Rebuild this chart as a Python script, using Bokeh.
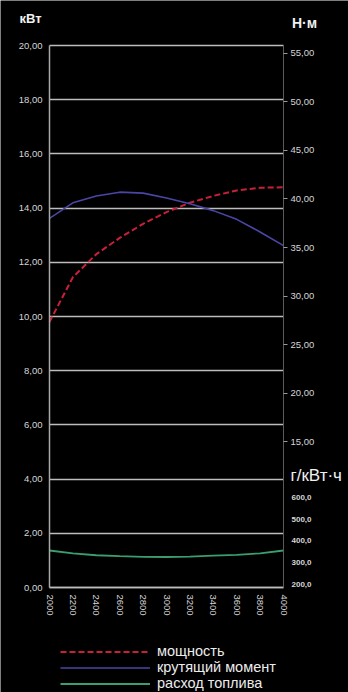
import math
from bokeh.plotting import figure
from bokeh.models import (Range1d, LinearAxis, FixedTicker, CustomJSTickFormatter,
                          Legend, LegendItem, Label, Grid)
from bokeh.embed import file_html
from bokeh.resources import INLINE

# ---- data ----
rpm = [2000, 2200, 2400, 2600, 2800, 3000, 3200, 3400, 3600, 3800, 4000]
power_kw = [9.8, 11.45, 12.3, 12.9, 13.42, 13.85, 14.2, 14.45, 14.65, 14.75, 14.77]
torque_nm = [38.0, 39.6, 40.3, 40.7, 40.6, 40.1, 39.5, 38.8, 37.9, 36.6, 35.2]
fuel_gkwh = [356, 343, 334, 330, 327, 326, 328, 332, 336, 343, 356]

rpm_span = (2000, 4000)
kw_span = (0, 20)
nm_span = (0, 55.8)
fuel_span = (185, 2690)

kw_ticks = [0, 2, 4, 6, 8, 10, 12, 14, 16, 18, 20]
nm_ticks = [15, 20, 25, 30, 35, 40, 45, 50, 55]
fuel_ticks = [200, 300, 400, 500, 600]
rpm_ticks = rpm

series_names = ["мощность", "крутящий момент", "расход топлива"]
unit_kw = "кВт"
unit_nm = "Н·м"
unit_fuel = "г/кВт·ч"

# ---- layout (pixels) ----
W, H = 348, 692
PL, PR, PT, PB = 49, 283, 45, 587   # plotting box inside the canvas

FONT = "Liberation Sans"
LABEL_COLOR = "#d6d6d6"
GRID_COLOR = "#bdbdbd"


def xr(lo, hi):
    k = (hi - lo) / (PR - PL)
    return Range1d(lo - PL * k, hi + (W - PR) * k)


def yr(lo, hi):
    k = (hi - lo) / (PB - PT)
    return Range1d(lo - (H - PB) * k, hi + PT * k)


p = figure(width=W, height=H, output_backend="svg", toolbar_location=None,
           x_range=xr(*rpm_span), y_range=yr(*kw_span),
           min_border=0, min_border_left=0, min_border_right=0,
           min_border_top=0, min_border_bottom=0,
           background_fill_color="black", border_fill_color="black",
           outline_line_color=None)
p.extra_y_ranges = {"torque": yr(*nm_span), "fuel": yr(*fuel_span)}

fmt2 = CustomJSTickFormatter(code="return tick.toFixed(2).replace('.', ',');")
fmt1 = CustomJSTickFormatter(code="return tick.toFixed(1).replace('.', ',');")
fmt0 = CustomJSTickFormatter(code="return tick.toFixed(0);")


def style(ax, size):
    ax.minor_tick_line_color = None
    ax.major_label_text_color = LABEL_COLOR
    ax.major_label_text_font = FONT
    ax.major_label_text_font_size = size


# left (kW) axis
la = p.yaxis[0]
la.fixed_location = rpm_span[0]
la.bounds = kw_span
la.ticker = FixedTicker(ticks=kw_ticks)
la.formatter = fmt2
la.major_tick_out = 0
la.major_tick_in = 0
la.major_label_standoff = 7
la.axis_line_color = "#a8a8a8"
la.axis_line_width = 1.5
style(la, "9.5px")

# bottom (rpm) axis
ba = p.xaxis[0]
ba.fixed_location = kw_span[0]
ba.bounds = rpm_span
ba.ticker = FixedTicker(ticks=rpm_ticks)
ba.formatter = fmt0
ba.major_tick_out = 0
ba.major_tick_in = 0
ba.major_label_standoff = 7
ba.major_label_orientation = -math.pi / 2
ba.axis_line_color = GRID_COLOR
ba.axis_line_width = 1.5
style(ba, "9.5px")

p.xgrid.grid_line_color = None
if "cross_bounds" in Grid.properties():
    p.ygrid.ticker = FixedTicker(ticks=kw_ticks)
    p.ygrid.cross_bounds = rpm_span
    p.ygrid.grid_line_color = GRID_COLOR
    p.ygrid.grid_line_width = 1.5
else:
    p.ygrid.grid_line_color = None
    p.segment(x0=[rpm_span[0]] * len(kw_ticks), x1=[rpm_span[1]] * len(kw_ticks),
              y0=kw_ticks, y1=kw_ticks, line_color=GRID_COLOR, line_width=1.5)

# right torque axis
ta = LinearAxis(y_range_name="torque", fixed_location=rpm_span[1], bounds=nm_span,
                ticker=FixedTicker(ticks=nm_ticks), formatter=fmt2)
ta.major_tick_out = 4
ta.major_tick_in = 0
ta.major_tick_line_color = "#9a9a9a"
ta.major_label_standoff = 3
ta.axis_line_color = "#5a5a5a"
ta.axis_line_width = 1
style(ta, "9.5px")
p.add_layout(ta, "right")

# right fuel axis
fa = LinearAxis(y_range_name="fuel", fixed_location=rpm_span[1],
                ticker=FixedTicker(ticks=fuel_ticks), formatter=fmt1)
fa.major_tick_out = 0
fa.major_tick_in = 0
fa.major_label_standoff = 8
fa.axis_line_color = None
style(fa, "8px")
fa.major_label_text_font_style = "bold"
p.add_layout(fa, "right")

# series
r_pow = p.line(rpm, power_kw, line_color="#c8203a", line_width=2, line_dash="6 3")
r_tq = p.line(rpm, torque_nm, y_range_name="torque", line_color="#4a46a6", line_width=1.6)
r_fu = p.line(rpm, fuel_gkwh, y_range_name="fuel", line_color="#3a9e6e", line_width=1.8)

legend = Legend(items=[LegendItem(label=series_names[0], renderers=[r_pow]),
                       LegendItem(label=series_names[1], renderers=[r_tq]),
                       LegendItem(label=series_names[2], renderers=[r_fu])],
                location=(60, 1), orientation="vertical",
                glyph_width=90, glyph_height=15, label_height=15,
                label_standoff=7, spacing=0, padding=0, margin=0,
                background_fill_alpha=0, border_line_alpha=0,
                label_text_color="#ececec", label_text_font=FONT,
                label_text_font_size="14.5px", label_text_line_height=1.0)
p.add_layout(legend, "center")

# unit titles (screen units measured from the canvas bottom-left)
for txt, x, y, align, size, style_ in [(unit_kw, 30, H - 18, "center", "13px", "bold"),
                                       (unit_nm, 304, H - 22, "center", "14px", "bold"),
                                       (unit_fuel, 290, H - 475, "left", "17px", "normal")]:
    p.add_layout(Label(x=x, y=y, x_units="screen", y_units="screen", text=txt,
                       text_align=align, text_baseline="middle",
                       text_color="#f0f0f0", text_font=FONT,
                       text_font_size=size, text_font_style=style_))

open("out.html", "w").write(file_html(p, INLINE))
